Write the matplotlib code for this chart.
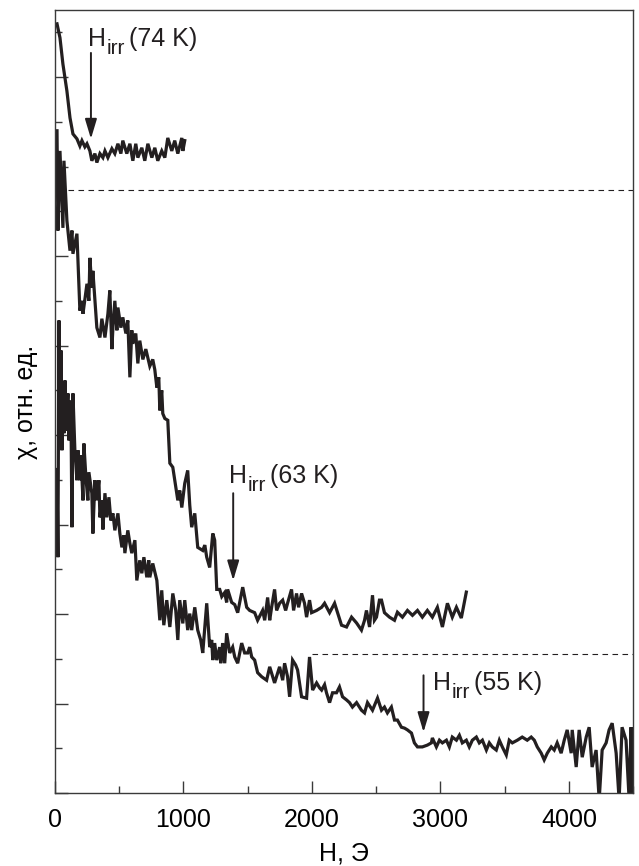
import matplotlib
matplotlib.use('Agg')
import matplotlib.pyplot as plt
from matplotlib.ticker import MultipleLocator

plt.rcParams['font.family'] = ['Liberation Sans', 'DejaVu Sans']

# susceptibility curves, arbitrary units
# 74 K
h74 = [16, 39, 62, 93, 117, 140, 171, 194, 210, 233, 249, 272, 287, 311, 326, 350,
       373, 389, 412, 443, 466, 490, 513, 528, 559, 583, 606, 629, 645, 676, 699, 723,
       754, 777, 800, 831, 855, 878, 909, 932, 956, 987, 995, 1010]
chi74 = [17.19, 16.88, 16.29, 15.69, 15.09, 14.73, 14.62, 14.46, 14.58, 14.44, 14.51,
         14.35, 14.13, 14.29, 14.09, 14.29, 14.20, 14.35, 14.20, 14.40, 14.29, 14.51,
         14.29, 14.58, 14.29, 14.51, 14.13, 14.51, 14.20, 14.42, 14.13, 14.51, 14.20,
         14.42, 14.13, 14.35, 14.20, 14.64, 14.35, 14.58, 14.29, 14.64, 14.35, 14.58]

# 63 K
h63 = [16, 23, 39, 62, 70, 93, 117, 132, 140, 171, 194, 210, 218, 249, 264, 272, 287,
       295, 326, 350, 365, 389, 412, 427, 443, 451, 466, 482, 490, 513, 528, 552, 567,
       583, 598, 606, 629, 645, 660, 684, 707, 738, 761, 777, 793, 808, 816, 831, 839,
       855, 878, 894, 917, 932, 956, 971, 987, 1010, 1033, 1049, 1064, 1088, 1111, 1150,
       1166, 1181, 1204, 1228, 1243, 1259, 1282, 1298, 1321, 1336, 1344, 1375, 1399,
       1422, 1461, 1492, 1515, 1554, 1577, 1616, 1632, 1655, 1671, 1686, 1709, 1725,
       1748, 1772, 1795, 1810, 1841, 1857, 1880, 1896, 1919, 1942, 1958, 1981, 1997,
       2036, 2075, 2098, 2137, 2176, 2199, 2230, 2269, 2308, 2347, 2385, 2409, 2424,
       2448, 2471, 2486, 2502, 2525, 2541, 2564, 2603, 2642, 2665, 2704, 2743, 2782,
       2821, 2859, 2898, 2937, 2976, 3015, 3054, 3092, 3124, 3162, 3201]
chi63 = [14.80, 12.57, 14.35, 12.63, 14.13, 12.79, 12.12, 12.57, 12.05, 12.50, 10.78,
         11.00, 10.71, 11.38, 11.00, 11.96, 11.29, 11.67, 10.40, 10.18, 10.60, 10.18,
         10.71, 11.23, 9.92, 10.40, 11.00, 10.34, 10.85, 10.40, 10.63, 10.27, 10.56,
         9.29, 10.34, 10.04, 10.27, 9.60, 10.11, 9.69, 9.92, 9.54, 9.69, 9.46, 9.06,
         9.29, 8.55, 9.00, 8.48, 8.37, 8.33, 7.37, 7.28, 6.99, 6.54, 6.76, 6.38, 6.92,
         7.21, 6.43, 5.94, 6.25, 5.49, 5.42, 5.54, 5.27, 5.04, 5.80, 5.65, 4.55, 4.55,
         4.39, 4.48, 4.26, 4.55, 4.26, 4.21, 4.03, 4.60, 4.15, 4.08, 4.03, 3.86, 4.08,
         3.86, 4.37, 3.86, 4.15, 4.55, 4.08, 4.24, 4.31, 4.08, 4.24, 4.55, 4.08, 4.46,
         4.15, 4.46, 4.24, 3.93, 4.31, 4.03, 4.08, 4.15, 4.24, 4.03, 4.24, 4.03, 3.75,
         3.71, 3.93, 3.80, 3.64, 3.86, 4.08, 3.71, 4.42, 3.86, 3.93, 4.31, 4.31, 4.03,
         3.93, 3.86, 4.04, 3.93, 4.08, 3.97, 4.08, 3.93, 4.08, 3.93, 4.15, 3.71, 4.24,
         3.93, 4.15, 3.91, 4.49]

# 55 K
h55 = [16, 23, 31, 39, 47, 54, 62, 70, 78, 85, 101, 109, 124, 132, 140, 155, 171, 179,
       194, 202, 218, 225, 241, 256, 264, 287, 295, 311, 326, 342, 350, 365, 373, 389,
       404, 420, 435, 451, 466, 490, 505, 521, 536, 544, 567, 583, 598, 622, 637, 660,
       676, 692, 715, 730, 738, 761, 793, 816, 831, 847, 870, 894, 917, 940, 956, 971,
       995, 1010, 1033, 1049, 1064, 1088, 1111, 1134, 1150, 1181, 1204, 1220, 1228,
       1243, 1259, 1282, 1290, 1305, 1321, 1336, 1360, 1383, 1399, 1422, 1453, 1476,
       1500, 1515, 1531, 1554, 1577, 1608, 1647, 1671, 1709, 1748, 1772, 1787, 1810,
       1826, 1849, 1873, 1888, 1919, 1958, 1981, 2005, 2036, 2059, 2075, 2098, 2113,
       2137, 2160, 2191, 2214, 2238, 2269, 2292, 2315, 2347, 2385, 2409, 2432, 2471,
       2510, 2541, 2564, 2587, 2618, 2642, 2665, 2696, 2720, 2743, 2774, 2797, 2821,
       2859, 2898, 2929, 2937, 2968, 2992, 3015, 3046, 3069, 3092, 3124, 3147, 3170,
       3201, 3224, 3248, 3279, 3302, 3326, 3357, 3380, 3403, 3434, 3458, 3481, 3512,
       3535, 3559, 3598, 3636, 3675, 3706, 3730, 3753, 3784, 3807, 3831, 3862, 3885,
       3908, 3939, 3963, 3986, 4017, 4025, 4056, 4079, 4103, 4134, 4157, 4180, 4211,
       4235, 4258, 4289, 4312, 4336, 4367, 4390, 4413, 4444, 4468, 4483, 4491]
chi55 = [7.23, 5.27, 10.56, 7.88, 9.89, 7.66, 8.93, 8.04, 9.22, 8.10, 8.93, 7.88, 8.77,
         5.94, 8.93, 7.66, 6.99, 7.66, 6.99, 7.55, 6.54, 7.81, 7.05, 6.54, 7.17, 6.70,
         5.80, 6.99, 6.54, 6.99, 6.16, 6.54, 5.89, 6.70, 6.16, 6.61, 6.09, 6.25, 5.87,
         6.25, 5.80, 5.49, 5.76, 5.36, 5.87, 5.58, 5.36, 5.65, 4.75, 5.20, 4.91, 5.27,
         4.82, 5.20, 4.82, 5.13, 4.75, 3.86, 4.53, 3.75, 4.31, 3.71, 4.46, 4.08, 3.42,
         4.31, 3.79, 4.31, 3.64, 4.01, 3.64, 4.15, 3.64, 3.42, 3.13, 4.24, 3.26, 3.42,
         2.97, 3.35, 2.97, 3.26, 2.90, 3.35, 2.90, 3.57, 3.13, 3.26, 3.04, 2.90, 3.35,
         3.13, 3.13, 3.26, 3.04, 2.97, 2.69, 2.60, 2.52, 2.82, 2.46, 2.82, 2.52, 2.90,
         2.60, 2.15, 2.97, 2.86, 2.75, 2.15, 2.12, 3.04, 2.30, 2.46, 2.35, 2.30, 2.42,
         2.24, 2.02, 2.24, 2.24, 2.37, 2.15, 2.08, 2.02, 1.92, 2.02, 1.85, 1.79, 2.02,
         1.85, 2.12, 1.85, 1.92, 1.79, 1.92, 1.63, 1.63, 1.47, 1.45, 1.41, 1.34, 1.12,
         1.03, 1.03, 1.07, 1.12, 1.23, 1.03, 1.18, 1.12, 1.18, 1.03, 1.25, 1.18, 1.29,
         1.12, 1.18, 1.03, 1.18, 1.25, 1.12, 1.18, 0.96, 1.12, 1.03, 0.96, 1.18, 1.03,
         0.85, 1.18, 1.12, 1.18, 1.25, 1.18, 1.25, 1.18, 1.03, 0.89, 0.74, 0.89, 1.03,
         0.96, 1.12, 0.89, 1.18, 1.41, 0.89, 1.41, 0.58, 1.41, 0.80, 1.25, 1.47, 0.58,
         0.96, -0.15, 0.96, 1.12, 1.41, 1.56, 0.89, -0.15, 1.47, 1.18, -0.15, 1.47,
         -0.15]

# dashed reference levels: (start field, level)
dash_levels = [(100, 13.48), (2000, 3.10)]

# H_irr markers: label, arrow x, arrow top, arrow tip, text x, text baseline
labels = ['74 K', '63 K', '55 K']
arrow_x = [280, 1387, 2868]
arrow_top = [16.54, 6.70, 2.63]
arrow_tip = [14.62, 4.75, 1.36]
text_x = [255, 1355, 2938]
text_y = [16.70, 6.92, 2.30]

ink = '#231f20'
fs = 18

fig = plt.figure(figsize=(6.39, 8.66), dpi=100)
ax = fig.add_axes([0.086, 0.0843, 0.905, 0.9042])

for h, chi in [(h74, chi74), (h63, chi63), (h55, chi55)]:
    ax.plot(h, chi, color=ink, lw=2.3, solid_joinstyle='miter')

for x0, lev in dash_levels:
    ax.plot([x0, 4500], [lev, lev], color=ink, lw=0.8, linestyle=(0, (5, 4)))

for lab, ax_x, top, tip, tx, ty in zip(labels, arrow_x, arrow_top, arrow_tip, text_x, text_y):
    ax.annotate('', xy=(ax_x, tip), xytext=(ax_x, top),
                arrowprops=dict(arrowstyle='-|>,head_length=1.2,head_width=0.36',
                                color=ink, lw=1.4, shrinkA=0, shrinkB=0))
    # H, lowered "irr", then "(xx K)" back on the baseline
    t1 = ax.text(tx, ty, 'H', fontsize=fs, color=ink, ha='left', va='baseline')
    t2 = ax.annotate('irr', xy=(1, 0), xycoords=t1, xytext=(0.5, -5),
                     textcoords='offset points', fontsize=15, color=ink,
                     ha='left', va='bottom')
    ax.annotate('(' + lab + ')', xy=(1, 0), xycoords=(t2, t1), xytext=(3, 0),
                textcoords='offset points', fontsize=fs, color=ink,
                ha='left', va='bottom')

ax.set_xlim(0, 4500)
ax.set_ylim(0, 17.5)
ax.xaxis.set_major_locator(MultipleLocator(1000))
ax.xaxis.set_minor_locator(MultipleLocator(500))
ax.yaxis.set_major_locator(MultipleLocator(2))
ax.yaxis.set_minor_locator(MultipleLocator(1))
ax.tick_params(axis='y', labelleft=False)
ax.tick_params(which='both', direction='in', color='#3a3a3a', width=1.0)
ax.tick_params(which='major', length=9, labelsize=fs, pad=11)
ax.tick_params(which='minor', length=5)
for s in ax.spines.values():
    s.set_color('#3a3a3a')
    s.set_linewidth(1.0)

ax.set_xlabel('H, Э', fontsize=fs, labelpad=7)
ax.set_ylabel('χ, отн. ед.', fontsize=fs, labelpad=9)

fig.savefig('out.png', dpi=100)
